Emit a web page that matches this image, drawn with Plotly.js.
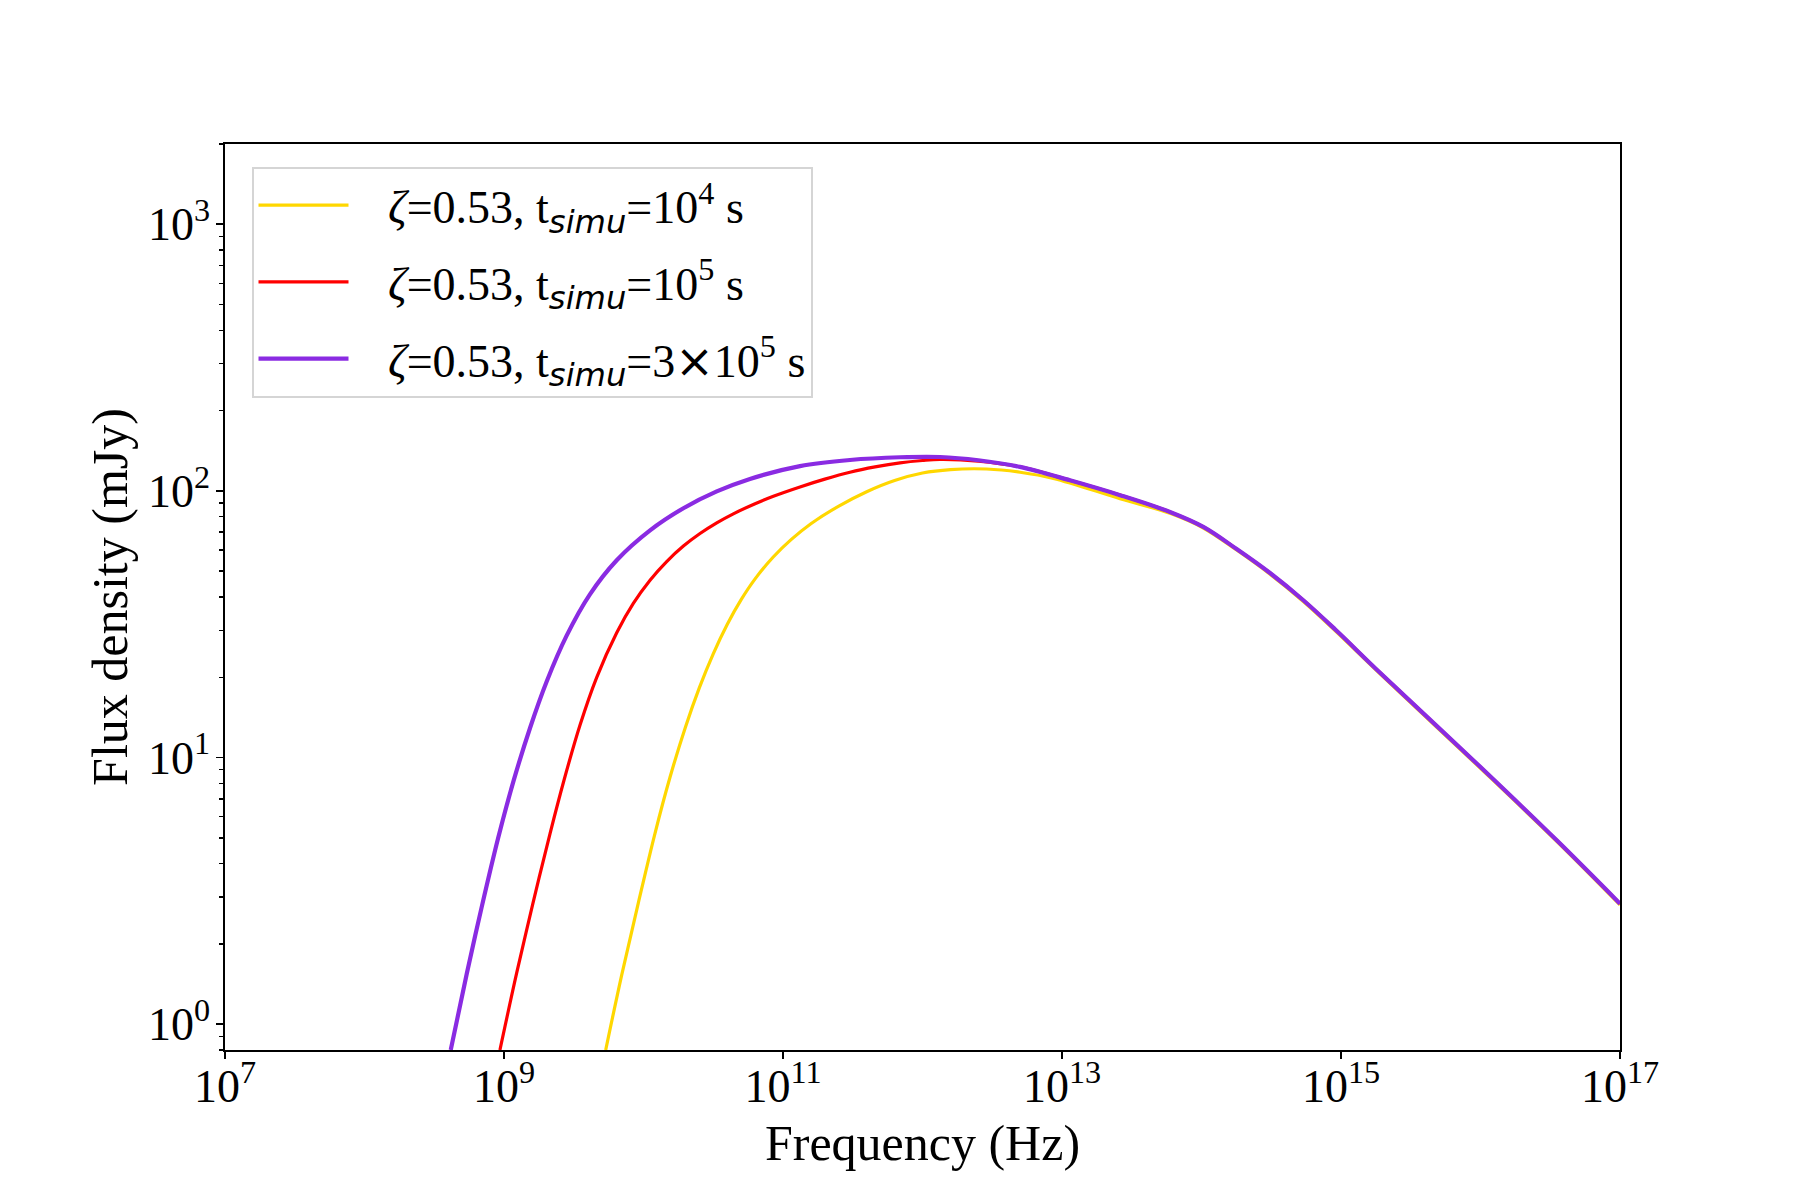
<!DOCTYPE html>
<html>
<head>
<meta charset="utf-8">
<script src="https://cdn.plot.ly/plotly-3.0.1.min.js"></script>
<style>
  html, body { margin: 0; padding: 0; background: #ffffff; }
  #chart { width: 1800px; height: 1200px; }
</style>
</head>
<body>
<div id="chart"></div>
<script>
// ---- data (frequency in Hz, flux density in mJy) ----
const freqYellow = [5.358e9, 6.982e9, 9.183e9, 1.208e10, 1.549e10, 1.995e10, 2.512e10, 3.162e10, 3.981e10, 5.012e10,
  6.310e10, 8.511e10, 1.148e11, 1.585e11, 2.512e11, 3.981e11, 6.310e11, 1.0e12, 1.585e12, 2.884e12,
  5.012e12, 8.670e12, 2.606e13, 5.94e13, 1.03e14, 1.786e14, 3.10e14, 5.37e14, 9.06e14, 1.905e15,
  9.91e15, 3.52e16, 1e17];
const fluxYellow = [0.80, 1.531, 2.851, 5.188, 8.433, 12.97, 18.24, 24.49, 31.55, 39.08,
  46.77, 56.49, 65.77, 75.34, 87.70, 99.31, 109.4, 116.7, 120.2, 120.8,
  117.5, 111.4, 93.5, 82.4, 72.6, 60.0, 48.7, 38.5, 29.95, 20.6,
  9.15, 4.85, 2.80];

const freqRed = [9.35e8, 1.233e9, 1.607e9, 2.138e9, 2.692e9, 3.508e9, 4.613e9, 6.427e9, 8.453e9, 1.114e10,
  1.466e10, 1.932e10, 2.541e10, 3.350e10, 4.406e10, 6.310e10, 8.531e10, 1.324e11, 1.995e11, 3.020e11,
  4.571e11, 6.902e11, 1.0e12, 1.334e12, 2.512e12, 5.012e12, 1.14e13, 2.61e13, 5.94e13, 1.03e14,
  1.786e14, 3.10e14, 5.37e14, 9.06e14, 1.905e15, 9.91e15, 3.52e16, 1e17];
const fluxRed = [0.80, 1.556, 2.818, 5.188, 8.222, 13.24, 19.95, 29.38, 37.84, 46.24,
  54.33, 62.09, 69.18, 75.86, 82.04, 89.54, 95.50, 103.5, 110.7, 117.5,
  123.0, 127.4, 130.0, 131.2, 129.4, 123.0, 109.6, 96.4, 83.4, 73.3,
  60.53, 49.20, 38.90, 30.27, 20.80, 9.247, 4.89, 2.83];

const freqPurple = [4.150e8, 5.408e8, 6.918e8, 9.099e8, 1.175e9, 1.535e9, 2.023e9, 2.812e9, 4.130e9, 6.427e9,
  1.114e10, 1.932e10, 3.350e10, 5.794e10, 1.324e11, 3.020e11, 6.902e11, 1.334e12, 2.512e12, 5.0e12,
  1.14e13, 2.61e13, 5.94e13, 1.03e14, 1.786e14, 3.10e14, 5.37e14, 9.06e14, 1.905e15, 9.91e15, 3.52e16, 1e17];
const fluxPurple = [0.80, 1.545, 2.748, 5.012, 8.222, 12.88, 19.28, 28.64, 40.93, 54.95,
  71.12, 86.10, 99.54, 110.9, 123.9, 130.6, 133.7, 134.0, 130.3, 123.0,
  109.6, 96.4, 83.4, 73.3, 60.53, 49.20, 38.90, 30.27, 20.80, 9.247, 4.89, 2.83];

const SUBT = "t<sub><span style=\"font-family:'DejaVu Sans'\"><i>simu</i></span></sub>";
const seriesNames = [
  "\u00a0\u00a0\u00a0<i>ζ</i>=0.53, " + SUBT + "=10<sup>4</sup> s",
  "\u00a0\u00a0\u00a0<i>ζ</i>=0.53, " + SUBT + "=10<sup>5</sup> s",
  "\u00a0\u00a0\u00a0<i>ζ</i>=0.53, " + SUBT + "=3<span style=\"font-family:'DejaVu Sans'\">×</span>10<sup>5</sup> s"
];
const xTickVals = [1e7, 1e9, 1e11, 1e13, 1e15, 1e17];
const xTickText = ["10<sup>7</sup>", "10<sup>9</sup>", "10<sup>11</sup>", "10<sup>13</sup>", "10<sup>15</sup>", "10<sup>17</sup>"];
const yTickVals = [1, 10, 100, 1000];
const yTickText = ["10<sup>0</sup>", "10<sup>1</sup>", "10<sup>2</sup>", "10<sup>3</sup>"];
const yMinorVals = [0.8, 0.9, 2, 3, 4, 5, 6, 7, 8, 9, 20, 30, 40, 50, 60, 70, 80, 90,
  200, 300, 400, 500, 600, 700, 800, 900, 2000];
const xTitle = "Frequency (Hz)";
const yTitle = "Flux density (mJy)";
const xRange = [1e7, 1e17];
const yRange = [0.8, 2000];

const FONT = "'Liberation Serif', 'Times New Roman', serif";

const traces = [
  { x: freqYellow, y: fluxYellow, name: seriesNames[0], legendgroup: 'a', mode: 'lines', line: { color: '#FFD700', width: 3.2, shape: 'spline', smoothing: 1 } },
  { x: freqRed, y: fluxRed, name: seriesNames[1], legendgroup: 'b', mode: 'lines', line: { color: '#FF0000', width: 3.2, shape: 'spline', smoothing: 1 } },
  { x: freqPurple, y: fluxPurple, name: seriesNames[2], legendgroup: 'c', mode: 'lines', line: { color: '#8A2BE2', width: 4.2, shape: 'spline', smoothing: 1 } }
];

const layout = {
  width: 1800, height: 1200,
  paper_bgcolor: '#ffffff', plot_bgcolor: '#ffffff',
  margin: { l: 225, r: 180, t: 144, b: 150, pad: 0 },
  font: { family: FONT, size: 46, color: '#000000' },
  showlegend: true,
  legend: {
    x: 0.019, y: 0.975, xanchor: 'left', yanchor: 'top',
    bgcolor: 'rgba(255,255,255,0.8)', bordercolor: '#d5d5d5', borderwidth: 2,
    font: { family: FONT, size: 46, color: '#000000' },
    itemwidth: 90, tracegroupgap: 14
  },
  xaxis: {
    type: 'log', range: xRange.map(Math.log10),
    tickmode: 'array', tickvals: xTickVals, ticktext: xTickText,
    showline: true, linecolor: '#000000', linewidth: 1.8, mirror: true,
    ticks: 'outside', ticklen: 7, tickwidth: 1.7, tickcolor: '#000000',
    ticklabelstandoff: -12,
    showgrid: false, zeroline: false,
    tickfont: { family: FONT, size: 46, color: '#000000' },
    title: { text: xTitle, font: { family: FONT, size: 50, color: '#000000' }, standoff: 14 },
    automargin: false
  },
  yaxis: {
    type: 'log', range: yRange.map(Math.log10),
    tickmode: 'array', tickvals: yTickVals, ticktext: yTickText,
    showline: true, linecolor: '#000000', linewidth: 1.8, mirror: true,
    ticks: 'outside', ticklen: 7, tickwidth: 1.7, tickcolor: '#000000',
    ticklabelstandoff: -3,
    minor: { tickmode: 'array', tickvals: yMinorVals, ticks: 'outside', ticklen: 4, tickwidth: 1.5, tickcolor: '#000000', showgrid: false },
    showgrid: false, zeroline: false,
    tickfont: { family: FONT, size: 46, color: '#000000' },
    title: { text: yTitle, font: { family: FONT, size: 50, color: '#000000' }, standoff: 4 },
    automargin: false
  }
};

Plotly.newPlot('chart', traces, layout, { displayModeBar: false, staticPlot: true });
</script>
</body>
</html>
